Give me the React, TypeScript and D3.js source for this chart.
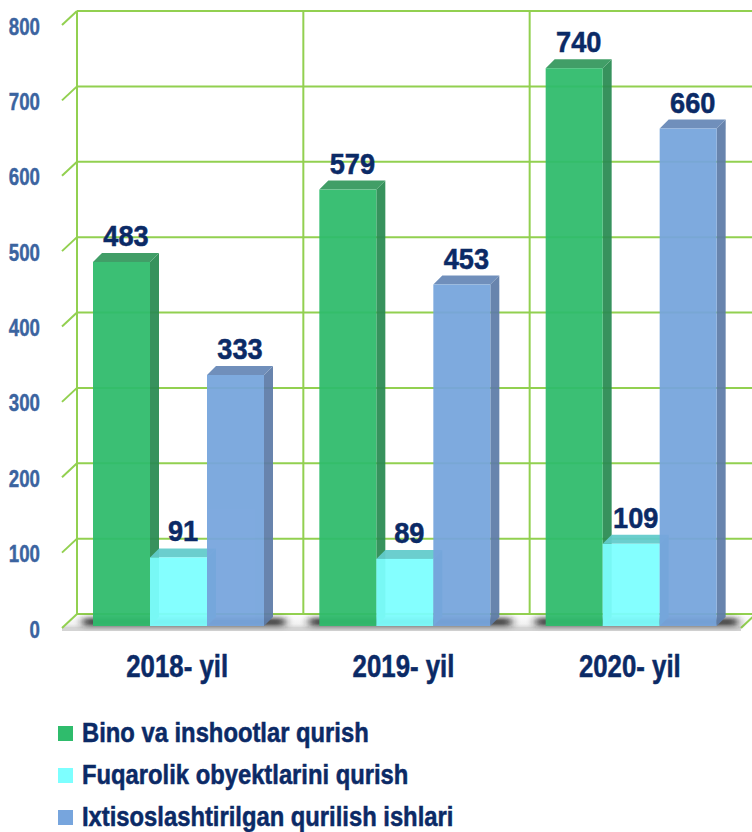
import React from "react";
import * as d3 from "d3";

const categories = ["2018- yil", "2019- yil", "2020- yil"];
const seriesNames = [
  "Bino va inshootlar qurish",
  "Fuqarolik obyektlarini qurish",
  "Ixtisoslashtirilgan qurilish ishlari",
];
const binoValues = [483, 579, 740];
const fuqarolikValues = [91, 89, 109];
const ixtisosValues = [333, 453, 660];
const yTicks = [0, 100, 200, 300, 400, 500, 600, 700, 800];

const frontColors = ["#2FBC6C", "#7DFFFF", "#77A5DD"];
const topColors = ["#36985E", "#62CCCC", "#6889B7"];
const sideColors = ["#2B8C53", "#52C4C4", "#5F7DA8"];

const W = 752;
const H = 832;
const GRID = "#92D050";
const NAVY = "#0B2A66";
const TICK = "#3B64A0";

export default function App() {
  const series = [binoValues, fuqarolikValues, ixtisosValues];

  const x = d3.scaleBand<string>().domain(categories).range([62, 741]).padding(0);
  const xs = d3.scaleBand<string>().domain(seriesNames).range([31, 202]).padding(0);
  const yF = d3.scaleLinear().domain([0, 800]).range([626, 23]);
  const wallDX = 15;
  const wallDY = -12;
  const bdx = 9;
  const bdy = -9;
  const yW = (v: number) => yF(v) + wallDY;
  const x0 = x.range()[0];
  const x1 = x.range()[1];

  const floorFront = yF(0) + 2;
  const floorBack = yW(0);

  return (
    <svg
      width={W}
      height={H}
      style={{ position: "absolute", left: 0, top: 0, background: "#fff" }}
      fontFamily="'Liberation Sans', Arial, sans-serif"
    >
      <defs>
        <filter id="shadowBlur" x="-20%" y="-200%" width="140%" height="500%">
          <feGaussianBlur stdDeviation="4 2.5" />
        </filter>
        <linearGradient id="floorGrad" x1="0" y1="0" x2="0" y2="1">
          <stop offset="0" stopColor="#ffffff" />
          <stop offset="0.7" stopColor="#f2f2f2" />
          <stop offset="1" stopColor="#d6d6d6" />
        </linearGradient>
      </defs>
      <rect x={0} y={0} width={W} height={H} fill="#fff" />

      {/* floor */}
      <path
        d={`M${x0},${floorFront} L${x1},${floorFront} L${x1 + wallDX},${floorBack} L${x0 + wallDX},${floorBack} Z`}
        fill="url(#floorGrad)"
      />
      <rect x={x0} y={floorFront - 1} width={x1 - x0} height={4} fill="#d4d4d4" />

      {/* back wall horizontal gridlines */}
      {yTicks.map((t) => (
        <g key={"g" + t}>
          <line x1={x0 + wallDX} x2={W} y1={yW(t)} y2={yW(t)} stroke={GRID} strokeWidth={2} />
          <line
            x1={x0}
            y1={yF(t) + 2}
            x2={x0 + wallDX}
            y2={yW(t)}
            stroke={GRID}
            strokeWidth={2}
          />
        </g>
      ))}
      {/* back wall vertical gridlines */}
      {[...categories.map((c) => x(c) as number), x1].map((vx, i) => (
        <line
          key={"v" + i}
          x1={vx + wallDX}
          x2={vx + wallDX}
          y1={yW(800)}
          y2={yW(0)}
          stroke={GRID}
          strokeWidth={2}
        />
      ))}
      <line
        x1={x1}
        y1={floorFront}
        x2={x1 + wallDX}
        y2={floorBack}
        stroke={GRID}
        strokeWidth={2}
      />

      {/* shadows */}
      {categories.map((c) => {
        const gx = x(c) as number;
        const left = gx + (xs(seriesNames[0]) as number) - 10;
        const right = gx + (xs(seriesNames[2]) as number) + xs.bandwidth() + bdx + 12;
        return (
          <rect
            key={"s" + c}
            x={left}
            y={yF(0) - 8}
            width={right - left}
            height={8}
            fill="#1a1a1a"
            opacity={0.85}
            filter="url(#shadowBlur)"
          />
        );
      })}

      {/* bars */}
      {categories.map((c, ci) => {
        const gx = x(c) as number;
        return (
          <g key={"bars" + c}>
            {series.map((vals, si) => {
              const bx = gx + (xs(seriesNames[si]) as number);
              const bw = xs.bandwidth();
              const top = yF(vals[ci]);
              const bottom = yF(0);
              return (
                <g key={si} opacity={0.94}>
                  <path
                    d={`M${bx + bw},${bottom} L${bx + bw},${top} L${bx + bw + bdx},${top + bdy} L${bx + bw + bdx},${bottom + bdy} Z`}
                    fill={sideColors[si]}
                  />
                  <path
                    d={`M${bx},${top} L${bx + bdx},${top + bdy} L${bx + bw + bdx},${top + bdy} L${bx + bw},${top} Z`}
                    fill={topColors[si]}
                  />
                  <rect x={bx} y={top} width={bw} height={bottom - top} fill={frontColors[si]} />
                </g>
              );
            })}
          </g>
        );
      })}

      {/* value labels */}
      {categories.map((c, ci) => {
        const gx = x(c) as number;
        return series.map((vals, si) => {
          const bx = gx + (xs(seriesNames[si]) as number);
          const cx = bx + xs.bandwidth() / 2 + bdx / 2;
          const by = yF(vals[ci]) + bdy - 7;
          return (
            <text
              key={"l" + ci + "-" + si}
              transform={`translate(${cx},${by}) scale(0.97,1.04)`}
              textAnchor="middle"
              fontSize={28}
              fontWeight="bold"
              fill={NAVY}
              stroke={NAVY}
              strokeWidth={0.5}
            >
              {vals[ci]}
            </text>
          );
        });
      })}

      {/* y tick labels */}
      {yTicks.map((t) => (
        <text
          key={"t" + t}
          transform={`translate(40,${yF(t) + 11.5}) scale(0.85,1.05)`}
          textAnchor="end"
          fontSize={22}
          fontWeight="bold"
          fill={TICK}
          stroke={TICK}
          strokeWidth={0.4}
        >
          {t}
        </text>
      ))}

      {/* category labels */}
      {categories.map((c) => (
        <text
          key={"c" + c}
          transform={`translate(${(x(c) as number) + x.bandwidth() / 2 + 2},677) scale(0.89,1.05)`}
          textAnchor="middle"
          fontSize={29}
          fontWeight="bold"
          fill={NAVY}
          stroke={NAVY}
          strokeWidth={0.5}
        >
          {c}
        </text>
      ))}

      {/* legend */}
      {seriesNames.map((n, i) => (
        <g key={"leg" + i} transform={`translate(58,${726 + i * 42})`}>
          <rect x={0} y={0} width={15} height={15} fill={frontColors[i]} />
          <text
            transform={`translate(24,16) scale(0.915,1.05)`}
            fontSize={26}
            fontWeight="bold"
            fill={NAVY}
            stroke={NAVY}
            strokeWidth={0.5}
          >
            {n}
          </text>
        </g>
      ))}
    </svg>
  );
}
